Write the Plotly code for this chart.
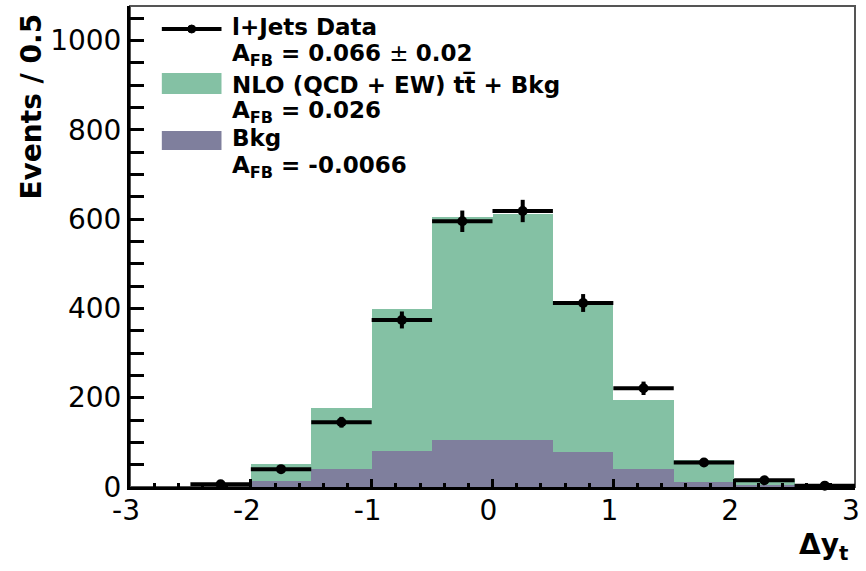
import plotly.graph_objects as go

# ---- data ----
bin_centers = [-2.25, -1.75, -1.25, -0.75, -0.25, 0.25, 0.75, 1.25, 1.75, 2.25, 2.75]
bin_width = 0.5
nlo_plus_bkg = [0, 52, 176, 398, 605, 612, 408, 194, 60, 17, 0]
bkg = [0, 14, 40, 80, 106, 106, 79, 40, 12, 5, 0]
data = [6, 40, 145, 374, 595, 618, 412, 221, 55, 15, 3]
data_err = [2.5, 6, 12, 19, 24, 25, 20, 15, 7, 4, 2]
x_ticks = [-3, -2, -1, 0, 1, 2, 3]
y_ticks = [0, 200, 400, 600, 800, 1000]

GREEN = "#84C1A4"
PURPLE = "#7F7F9D"
FONT = "DejaVu Sans"

W, H = 866, 571
ML, MR, MT, MB = 130, 7, 6, 84
PW, PH = W - ML - MR, H - MT - MB


def px(x):
    return (x - ML) / PW


def py(y):
    return (H - MB - y) / PH


fig = go.Figure()
fig.add_trace(go.Bar(x=bin_centers, y=nlo_plus_bkg, width=bin_width,
                     marker=dict(color=GREEN, line=dict(width=0)), showlegend=False))
fig.add_trace(go.Bar(x=bin_centers, y=bkg, width=bin_width,
                     marker=dict(color=PURPLE, line=dict(width=0)), showlegend=False))
fig.add_trace(go.Scatter(
    x=bin_centers, y=data, mode="markers",
    marker=dict(color="black", size=10, symbol="circle"),
    error_x=dict(type="constant", value=bin_width / 2, color="black", thickness=4, width=0),
    error_y=dict(type="data", array=data_err, color="black", thickness=4, width=0),
    showlegend=False, cliponaxis=False))

shapes = []
annotations = []
# frame (top/right thinner, grey)
shapes.append(dict(type="rect", xref="paper", yref="paper", x0=0, x1=1, y0=0, y1=1,
                   line=dict(color="#555555", width=2), layer="below"))
# ---- manual legend ----
shapes.append(dict(type="line", xref="paper", yref="paper",
                   x0=px(162), x1=px(222), y0=py(29), y1=py(29),
                   line=dict(color="black", width=4)))
shapes.append(dict(type="circle", xref="paper", yref="paper",
                   x0=px(188), x1=px(196), y0=py(33), y1=py(25),
                   fillcolor="black", line=dict(color="black", width=1)))
shapes.append(dict(type="rect", xref="paper", yref="paper",
                   x0=px(162), x1=px(222), y0=py(94), y1=py(73),
                   fillcolor=GREEN, line=dict(width=0)))
shapes.append(dict(type="rect", xref="paper", yref="paper",
                   x0=px(162), x1=px(222), y0=py(150), y1=py(131),
                   fillcolor=PURPLE, line=dict(width=0)))

legend_lines = [
    ("<b>l+Jets Data</b>", 27),
    ("<b>A<sub>FB</sub> = 0.066 </b>± <b>0.02</b>", 55),
    ("<b>NLO (QCD + EW) tt\u0305 + Bkg</b>", 85),
    ("<b>A<sub>FB</sub> = 0.026</b>", 112),
    ("<b>Bkg</b>", 138),
    ("<b>A<sub>FB</sub> = -0.0066</b>", 167),
]
for txt, yc in legend_lines:
    annotations.append(dict(text=txt, xref="paper", yref="paper", x=px(231), y=py(yc),
                            xanchor="left", yanchor="middle", showarrow=False,
                            font=dict(family=FONT, size=23, color="black")))

annotations.append(dict(text="<b>Events / 0.5</b>", xref="paper", yref="paper",
                        x=px(30), y=py(12), xanchor="center", yanchor="top",
                        textangle=-90, showarrow=False,
                        font=dict(family=FONT, size=28, color="black")))
annotations.append(dict(text="<b>\u0394y<sub>t</sub></b>", xref="paper", yref="paper",
                        x=px(854), y=py(546), xanchor="right", yanchor="middle",
                        showarrow=False,
                        font=dict(family=FONT, size=28, color="black")))

fig.update_layout(
    width=W, height=H,
    margin=dict(l=ML, r=MR, t=MT, b=MB),
    paper_bgcolor="white", plot_bgcolor="white",
    barmode="overlay", bargap=0,
    shapes=shapes, annotations=annotations,
    showlegend=False,
)
fig.update_xaxes(range=[-3, 3], tickvals=x_ticks, ticktext=[str(v) for v in x_ticks],
                 ticks="inside", ticklen=8, tickwidth=3, tickcolor="black",
                 minor=dict(dtick=0.2, ticks="inside", ticklen=4, tickwidth=3, tickcolor="black"),
                 showline=True, linecolor="black", linewidth=3, mirror=False,
                 showgrid=False, zeroline=False, ticklabelstandoff=-4,
                 ticklabelshift=-4,
                 tickfont=dict(family=FONT, size=28, color="black"))
fig.update_yaxes(range=[0, 1077], tickvals=y_ticks,
                 ticks="inside", ticklen=14, tickwidth=3, tickcolor="black",
                 minor=dict(dtick=50, ticks="inside", ticklen=14, tickwidth=3, tickcolor="black"),
                 showline=True, linecolor="black", linewidth=3, mirror=False,
                 showgrid=False, zeroline=False,
                 tickfont=dict(family=FONT, size=28, color="black"))

fig.write_html("out.html", config={"displayModeBar": False},
               post_script="document.body.style.margin='0';document.body.style.overflow='hidden';")
